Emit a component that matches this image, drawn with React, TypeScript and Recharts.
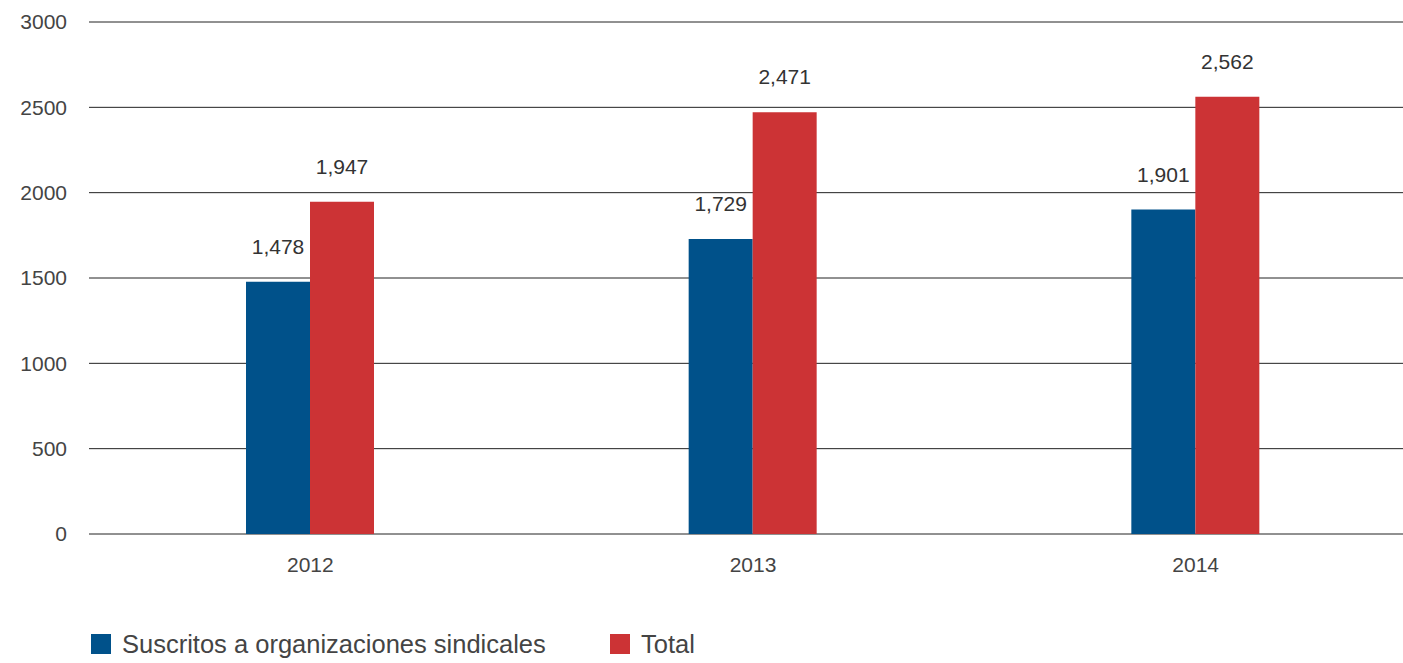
import { BarChart, Bar, XAxis, YAxis, CartesianGrid, Legend, LabelList } from "recharts";

const years = ["2012", "2013", "2014"];
const suscritos = [1478, 1729, 1901];
const total = [1947, 2471, 2562];
const yTicks = [0, 500, 1000, 1500, 2000, 2500, 3000];

const BLUE = "#00518A";
const RED = "#CC3335";
const FONT = "'Liberation Sans', Arial, sans-serif";

const data = years.map((year, i) => ({
  year,
  suscritos: suscritos[i],
  total: total[i],
}));

const legendItems = [
  { label: "Suscritos a organizaciones sindicales", color: BLUE, left: 91 },
  { label: "Total", color: RED, left: 610 },
];

function LegendContent() {
  return (
    <div style={{ position: "relative", height: 60, width: 1420 }}>
      {legendItems.map((item) => (
        <div
          key={item.label}
          style={{
            position: "absolute",
            left: item.left,
            top: 31,
            height: 20,
            display: "flex",
            alignItems: "center",
            whiteSpace: "nowrap",
          }}
        >
          <span style={{ width: 20, height: 20, background: item.color, display: "inline-block" }} />
          <span style={{ marginLeft: 11, fontSize: 25.5, color: "#444", fontFamily: FONT }}>{item.label}</span>
        </div>
      ))}
    </div>
  );
}

const fmt = (v: number) => v.toLocaleString("en-US");

export default function App() {
  return (
    <div style={{ position: "absolute", left: 0, top: 0, width: 1403, height: 663, overflow: "hidden", background: "#fff" }}>
      <BarChart
        width={1420}
        height={663}
        data={data}
        margin={{ top: 22, right: 3, left: 0, bottom: 0 }}
        barGap={0}
        barSize={64}
      >
        <CartesianGrid vertical={false} stroke="#222" strokeWidth={1} />
        <XAxis
          dataKey="year"
          axisLine={false}
          tickLine={false}
          tickSize={0}
          tickMargin={23}
          height={69}
          tick={{ fill: "#444", fontSize: 21, fontFamily: FONT }}
        />
        <YAxis
          domain={[0, 3000]}
          ticks={yTicks}
          width={89}
          axisLine={false}
          tickLine={false}
          tickSize={0}
          tickMargin={22}
          tick={{ fill: "#444", fontSize: 21, fontFamily: FONT }}
        />
        <Legend
          verticalAlign="bottom"
          height={60}
          wrapperStyle={{ left: 0, width: 1420, bottom: 0 }}
          content={() => <LegendContent />}
        />
        <Bar dataKey="suscritos" fill={BLUE} isAnimationActive={false}>
          <LabelList
            dataKey="suscritos"
            position="top"
            offset={28}
            formatter={(v: any) => fmt(Number(v))}
            style={{ fill: "#333", fontSize: 21, fontFamily: FONT }}
          />
        </Bar>
        <Bar dataKey="total" fill={RED} isAnimationActive={false}>
          <LabelList
            dataKey="total"
            position="top"
            offset={28}
            formatter={(v: any) => fmt(Number(v))}
            style={{ fill: "#333", fontSize: 21, fontFamily: FONT }}
          />
        </Bar>
      </BarChart>
    </div>
  );
}
